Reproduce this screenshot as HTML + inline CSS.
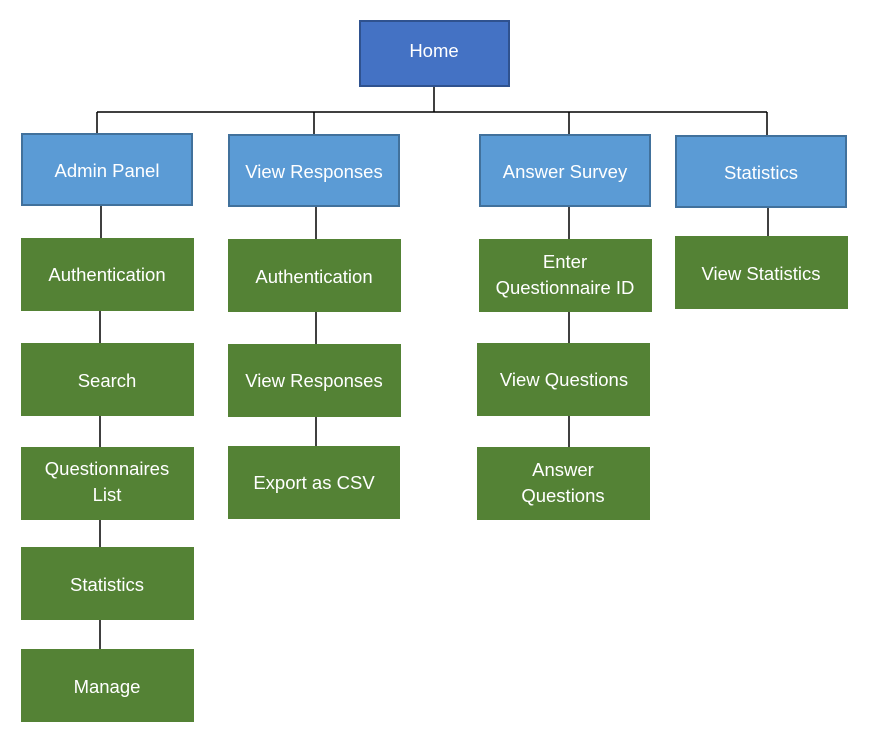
<!DOCTYPE html>
<html><head><meta charset="utf-8"><style>
html,body{margin:0;padding:0;background:#fff;width:872px;height:752px;overflow:hidden}
text{font-family:"Liberation Sans",sans-serif;font-size:18.5px;fill:#fff;text-anchor:middle}
</style></head><body>
<svg width="872" height="752" xmlns="http://www.w3.org/2000/svg">
<g stroke="#000" stroke-width="1.5" fill="none">
<path d="M434 87V112M97 112H767M97 112V133M314 112V134M569 112V134M767 112V136"/>
<path d="M101 206V238M100 311V343M100 416V447M100 520V547M100 620V649"/>
<path d="M316 207V239M316 312V344M316 417V446"/>
<path d="M569 207V239M569 312V343M569 416V447"/>
<path d="M768 208V236"/>
</g>
<g stroke-width="2">
<rect x="360" y="21" width="149" height="65" fill="#4472C4" stroke="#2F528F"/>
<rect x="22" y="134" width="170" height="71" fill="#5B9BD5" stroke="#41719C"/>
<rect x="229" y="135" width="170" height="71" fill="#5B9BD5" stroke="#41719C"/>
<rect x="480" y="135" width="170" height="71" fill="#5B9BD5" stroke="#41719C"/>
<rect x="676" y="136" width="170" height="71" fill="#5B9BD5" stroke="#41719C"/>
</g>
<g fill="#548235">
<rect x="21" y="238" width="173" height="73"/>
<rect x="21" y="343" width="173" height="73"/>
<rect x="21" y="447" width="173" height="73"/>
<rect x="21" y="547" width="173" height="73"/>
<rect x="21" y="649" width="173" height="73"/>
<rect x="228" y="239" width="173" height="73"/>
<rect x="228" y="344" width="173" height="73"/>
<rect x="228" y="446" width="172" height="73"/>
<rect x="479" y="239" width="173" height="73"/>
<rect x="477" y="343" width="173" height="73"/>
<rect x="477" y="447" width="173" height="73"/>
<rect x="675" y="236" width="173" height="73"/>
</g>
<text x="434" y="57">Home</text>
<text x="107" y="177">Admin Panel</text>
<text x="314" y="178">View Responses</text>
<text x="565" y="178">Answer Survey</text>
<text x="761" y="179">Statistics</text>
<text x="107" y="281">Authentication</text>
<text x="107" y="387">Search</text>
<text x="107" y="475">Questionnaires</text>
<text x="107" y="501">List</text>
<text x="107" y="591">Statistics</text>
<text x="107" y="693">Manage</text>
<text x="314" y="283">Authentication</text>
<text x="314" y="387">View Responses</text>
<text x="314" y="489">Export as CSV</text>
<text x="565" y="268">Enter</text>
<text x="565" y="294">Questionnaire ID</text>
<text x="564" y="386">View Questions</text>
<text x="563" y="476">Answer</text>
<text x="563" y="502">Questions</text>
<text x="761" y="280">View Statistics</text>
</svg>
</body></html>
